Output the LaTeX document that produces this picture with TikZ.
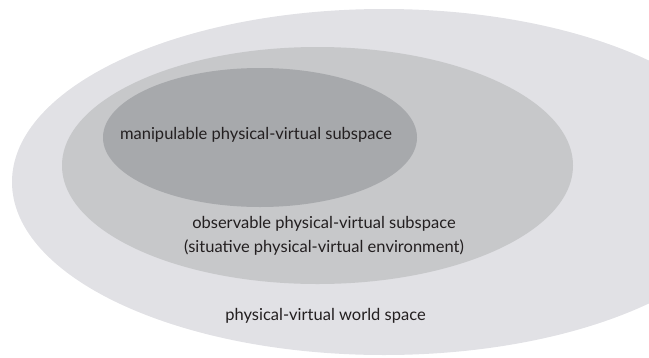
\documentclass[tikz,border=0pt]{standalone}
\usepackage{fontspec}
\setmainfont{Lato}
\usetikzlibrary{shapes.geometric,positioning}
\definecolor{worldgray}{HTML}{E1E1E5}
\definecolor{obsgray}{HTML}{C7C8CA}
\definecolor{mangray}{HTML}{A7A9AC}
\definecolor{txtgray}{HTML}{231F20}
\tikzset{
    x=1pt,y=-1pt,
    region/.style ={ellipse, draw=none, inner sep=0pt},
    lbl/.style = {text=txtgray, align=center, inner sep=1pt, font=\fontsize{16.5}{24}\selectfont}
}

\begin{document}
\begin{tikzpicture}
            \useasboundingbox (0,0) rectangle (649,357);
            % nested spaces, outermost first
            \node[region,fill=worldgray,minimum width=744pt,minimum height=346pt] (world) at (384,182) {};
            \node[region,fill=obsgray,minimum width=511pt,minimum height=237pt] (observable) at (317.5,165.5) {};
            \node[region,fill=mangray,minimum width=314pt,minimum height=139pt] (manipulable) at (260,137.5) {};
            % Labels
            \node[lbl] (manlabel) at (256,135) {manipulable physical-virtual subspace};
            \node[lbl] (obslabel) at (324,236) {observable physical-virtual subspace\\(situative physical-virtual environment)};
            \node[lbl] (worldlabel) at (325.5,316) {physical-virtual world space};
        \end{tikzpicture}
\end{document}
